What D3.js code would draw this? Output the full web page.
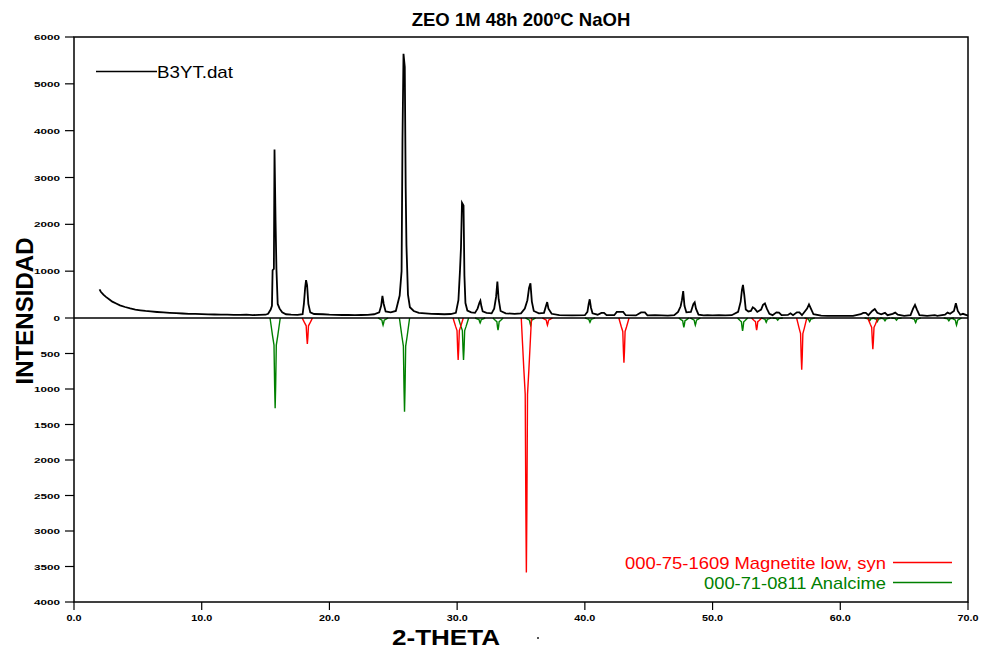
<!DOCTYPE html>
<html>
<head>
<meta charset="utf-8">
<script src="https://cdn.jsdelivr.net/npm/d3@7"></script>
<style>
  body { margin: 0; background: #fff; }
  svg { display: block; font-family: Arial, "Liberation Sans", sans-serif; }
</style>
</head>
<body>
<div id="chart"></div>
<script>
// measured pattern B3YT.dat (2-theta, counts)
const theta = [
  2.0, 2.1, 2.3, 2.5, 2.8, 3.0, 3.3, 3.6, 4.0, 4.4, 4.8, 5.2, 5.6, 6.0, 6.5, 7.0, 7.5, 8.0, 8.5, 9.0,
  9.5, 10.0, 10.5, 11.0, 11.5, 12.0, 12.5, 13.0, 13.5, 14.0, 14.5, 15.0, 15.2, 15.4, 15.5, 15.55, 15.65, 15.7, 15.78, 15.85,
  15.95, 16.1, 16.3, 16.6, 17.0, 17.5, 17.9, 18.0, 18.1, 18.17, 18.25, 18.35, 18.5, 18.8, 19.5, 20.0, 20.5, 21.0, 21.5, 22.0,
  22.5, 23.0, 23.5, 23.9, 24.05, 24.15, 24.25, 24.4, 24.8, 25.2, 25.5, 25.65, 25.72, 25.8, 25.9, 25.97, 26.03, 26.15, 26.3, 26.6,
  27.0, 27.5, 28.0, 28.5, 29.0, 29.5, 29.9, 30.1, 30.22, 30.3, 30.38, 30.5, 30.57, 30.65, 30.8, 31.1, 31.4, 31.6, 31.75, 31.82,
  31.9, 32.0, 32.3, 32.7, 32.9, 33.05, 33.15, 33.25, 33.4, 33.8, 34.5, 35.0, 35.3, 35.5, 35.63, 35.74, 35.85, 36.0, 36.4, 36.8,
  36.95, 37.05, 37.15, 37.4, 38.0, 39.0, 40.0, 40.2, 40.3, 40.38, 40.48, 40.6, 41.0, 41.3, 41.5, 41.7, 42.3, 42.5, 42.8, 43.0,
  43.2, 44.0, 44.4, 44.7, 44.9, 45.5, 46.5, 47.0, 47.3, 47.5, 47.6, 47.7, 47.8, 47.95, 48.3, 48.5, 48.6, 48.7, 48.9, 49.3,
  49.6, 50.0, 50.5, 51.0, 51.5, 52.0, 52.2, 52.3, 52.38, 52.48, 52.6, 52.8, 53.0, 53.15, 53.3, 53.5, 53.8, 53.95, 54.1, 54.25,
  54.45, 54.7, 55.0, 55.2, 55.4, 55.9, 56.1, 56.3, 56.6, 56.8, 57.0, 57.4, 57.55, 57.7, 57.9, 58.5, 59.0, 60.0, 61.0, 61.6,
  61.8, 62.0, 62.2, 62.5, 62.7, 62.9, 63.2, 63.5, 63.7, 64.1, 64.3, 64.5, 65.0, 65.5, 65.7, 65.85, 66.0, 66.2, 66.8, 67.4,
  67.6, 68.2, 68.4, 68.6, 68.9, 69.05, 69.2, 69.4, 69.6, 70.0
];
const counts = [
  610, 560, 500, 450, 390, 350, 310, 270, 235, 205, 180, 165, 150, 140, 128, 118, 110, 102, 96, 90,
  86, 82, 78, 75, 72, 70, 68, 66, 70, 62, 66, 70, 90, 180, 260, 1020, 1050, 3600, 2100, 1050,
  300, 200, 120, 80, 70, 65, 80, 300, 650, 810, 700, 300, 120, 85, 80, 70, 66, 64, 66, 62,
  64, 68, 80, 120, 260, 470, 300, 140, 120, 150, 480, 1000, 3800, 5640, 5360, 2800, 1560, 500, 230, 150,
  110, 100, 90, 85, 80, 85, 110, 380, 1000, 1500, 2460, 2400, 900, 320, 160, 120, 110, 200, 330, 370,
  250, 140, 110, 100, 200, 450, 780, 400, 150, 100, 90, 100, 200, 380, 640, 740, 350, 150, 100, 110,
  250, 340, 200, 90, 60, 55, 60, 130, 300, 400, 220, 100, 70, 110, 110, 60, 60, 130, 130, 130,
  60, 55, 120, 120, 55, 60, 50, 60, 130, 250, 380, 576, 260, 120, 130, 300, 335, 200, 70, 55,
  60, 55, 60, 55, 60, 130, 350, 600, 705, 500, 180, 140, 150, 230, 200, 130, 180, 280, 310, 200,
  90, 60, 120, 115, 60, 65, 100, 60, 120, 120, 60, 200, 290, 200, 80, 50, 45, 45, 45, 80,
  110, 110, 60, 150, 190, 110, 80, 110, 60, 90, 115, 70, 45, 60, 200, 280, 180, 60, 45, 60,
  45, 70, 115, 90, 150, 314, 150, 70, 90, 50
];

// reference cards (peak position, displayed intensity)
const magPos = [18.27, 30.08, 35.42, 37.07, 43.06, 53.45, 56.98, 62.55];
const magInt = [366, 590, 3585, 100, 630, 170, 730, 440];
const anaPos = [15.75, 24.2, 25.88, 30.5, 31.8, 33.2, 35.75, 40.4, 47.75, 48.65, 52.35, 54.2, 55.1, 57.6, 62.3, 62.9, 63.5, 64.4, 65.9, 68.5, 69.1];
const anaInt = [1270, 100, 1320, 590, 70, 170, 100, 60, 130, 100, 180, 60, 30, 50, 40, 50, 40, 30, 65, 40, 100];

const xTicks = [0, 10, 20, 30, 40, 50, 60, 70];
const yTicksPos = [0, 1000, 2000, 3000, 4000, 5000, 6000];
const yTicksNeg = [500, 1000, 1500, 2000, 2500, 3000, 3500, 4000];

const title = "ZEO 1M 48h 200ºC NaOH";
const legendObs = "B3YT.dat";
const legendMag = "000-75-1609 Magnetite low, syn";
const legendAna = "000-71-0811 Analcime";

const width = 982, height = 656;
const margin = { top: 37, right: 14, bottom: 54, left: 74 };

const svg = d3.select("#chart").append("svg")
  .attr("width", width)
  .attr("height", height);

const x = d3.scaleLinear()
  .domain([0, 70])
  .range([margin.left, width - margin.right]);

// positive counts and reference cards use different vertical scales
const y = d3.scaleLinear()
  .domain([-4000, 0, 6000])
  .range([height - margin.bottom, 318, margin.top]);

const obs = theta.map((t, i) => ({ t: t, c: counts[i] }));

// peak outline for a reference line (offset in degrees, fraction of depth)
const shape = [[-0.4, 0], [-0.3, 0.1], [-0.2, 0.2], [-0.09, 0.3], [-0.04, 0.75], [0, 1],
               [0.04, 0.75], [0.09, 0.3], [0.2, 0.2], [0.3, 0.1], [0.4, 0]];

const peakLine = d3.line()
  .x(d => x(d[0]))
  .y(d => y(d[1]));

function drawCard(pos, ints, color) {
  svg.append("g")
    .selectAll("path")
    .data(pos.map((p, i) => shape.map(s => [p + s[0], -ints[i] * s[1]])))
    .join("path")
    .attr("d", peakLine)
    .attr("fill", "none")
    .attr("stroke", color)
    .attr("stroke-width", 1.4);
}

drawCard(anaPos, anaInt, "#008000");
drawCard(magPos, magInt, "#ff0000");

// zero line
svg.append("line")
  .attr("x1", x(0)).attr("x2", x(70))
  .attr("y1", y(0)).attr("y2", y(0))
  .attr("stroke", "#000")
  .attr("stroke-width", 1.6);

const line = d3.line()
  .x(d => x(d.t))
  .y(d => y(d.c));

svg.append("path")
  .datum(obs)
  .attr("d", line)
  .attr("fill", "none")
  .attr("stroke", "#000")
  .attr("stroke-width", 1.8);

// frame
svg.append("rect")
  .attr("x", x(0)).attr("y", y(6000))
  .attr("width", x(70) - x(0))
  .attr("height", y(-4000) - y(6000))
  .attr("fill", "none")
  .attr("stroke", "#000")
  .attr("stroke-width", 1.5);

// y axis ticks and labels
const yt = yTicksPos.map(v => ({ v: v, lab: String(v) }))
  .concat(yTicksNeg.map(v => ({ v: -v, lab: String(v) })));

const yAxis = svg.append("g");
yAxis.selectAll("line")
  .data(yt)
  .join("line")
  .attr("x1", x(0) - 9).attr("x2", x(0))
  .attr("y1", d => y(d.v)).attr("y2", d => y(d.v))
  .attr("stroke", "#000")
  .attr("stroke-width", 1.2);
yAxis.selectAll("text")
  .data(yt)
  .join("text")
  .attr("x", x(0) - 14)
  .attr("y", d => y(d.v) + 3)
  .attr("text-anchor", "end")
  .attr("font-size", 8)
  .attr("font-weight", "bold")
  .attr("textLength", d => d.lab.length * 6.5)
  .attr("lengthAdjust", "spacingAndGlyphs")
  .text(d => d.lab);

// x axis ticks and labels
const xAxis = svg.append("g");
xAxis.selectAll("line")
  .data(xTicks)
  .join("line")
  .attr("x1", d => x(d)).attr("x2", d => x(d))
  .attr("y1", y(-4000)).attr("y2", y(-4000) + 8)
  .attr("stroke", "#000")
  .attr("stroke-width", 1.2);
xAxis.selectAll("text")
  .data(xTicks)
  .join("text")
  .attr("x", d => x(d))
  .attr("y", y(-4000) + 19)
  .attr("text-anchor", "middle")
  .attr("font-size", 9)
  .attr("font-weight", "bold")
  .attr("textLength", d => d.toFixed(1).length * 6 - 3)
  .attr("lengthAdjust", "spacingAndGlyphs")
  .text(d => d.toFixed(1));

// titles
svg.append("text")
  .attr("x", 521).attr("y", 26)
  .attr("text-anchor", "middle")
  .attr("font-size", 18.5)
  .attr("font-weight", "bold")
  .text(title);

svg.append("text")
  .attr("transform", "translate(33,311) rotate(-90)")
  .attr("text-anchor", "middle")
  .attr("font-size", 23)
  .attr("font-weight", "bold")
  .attr("textLength", 147)
  .attr("lengthAdjust", "spacingAndGlyphs")
  .text("INTENSIDAD");

svg.append("text")
  .attr("x", 446).attr("y", 645)
  .attr("text-anchor", "middle")
  .attr("font-size", 22)
  .attr("font-weight", "bold")
  .attr("textLength", 108)
  .attr("lengthAdjust", "spacingAndGlyphs")
  .text("2-THETA");

svg.append("rect")
  .attr("x", 537).attr("y", 637)
  .attr("width", 2).attr("height", 2)
  .attr("fill", "#555");

// legends
svg.append("line")
  .attr("x1", 96).attr("x2", 157)
  .attr("y1", 71.5).attr("y2", 71.5)
  .attr("stroke", "#000").attr("stroke-width", 1.3);
svg.append("text")
  .attr("x", 157).attr("y", 77.5)
  .attr("font-size", 17)
  .attr("textLength", 76)
  .attr("lengthAdjust", "spacingAndGlyphs")
  .text(legendObs);

const refLegend = [
  { lab: legendMag, color: "#ff0000", yy: 562.5, w: 261 },
  { lab: legendAna, color: "#008000", yy: 582.5, w: 182 }
];
const lg = svg.append("g");
lg.selectAll("line")
  .data(refLegend)
  .join("line")
  .attr("x1", 893).attr("x2", 952)
  .attr("y1", d => d.yy).attr("y2", d => d.yy)
  .attr("stroke", d => d.color)
  .attr("stroke-width", 1.3);
lg.selectAll("text")
  .data(refLegend)
  .join("text")
  .attr("x", 886)
  .attr("y", d => d.yy + 6)
  .attr("text-anchor", "end")
  .attr("font-size", 17)
  .attr("fill", d => d.color)
  .attr("textLength", d => d.w)
  .attr("lengthAdjust", "spacingAndGlyphs")
  .text(d => d.lab);
</script>
</body>
</html>
